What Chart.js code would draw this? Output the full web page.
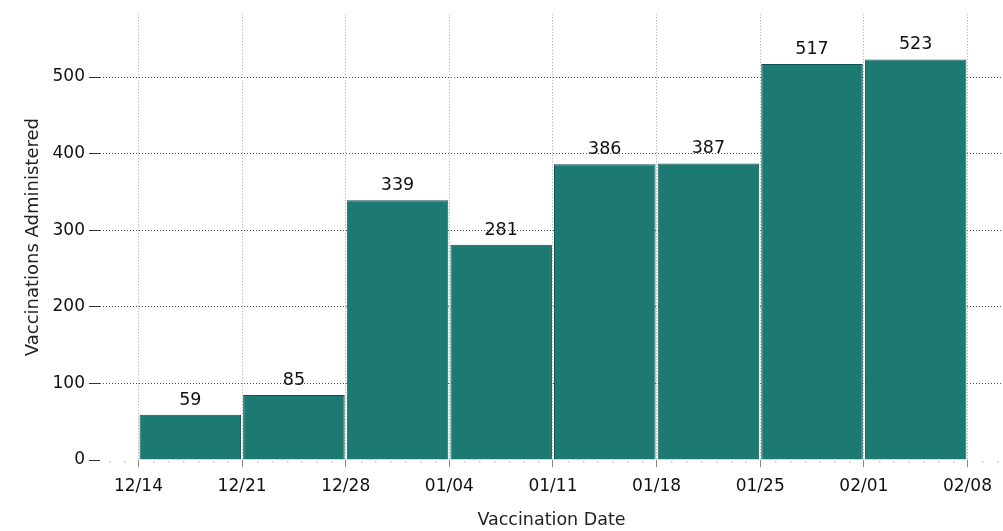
<!DOCTYPE html>
<html>
<head>
<meta charset="utf-8">
<script src="https://cdn.jsdelivr.net/npm/chart.js@4/dist/chart.umd.min.js"></script>
<style>
    html, body { margin: 0; padding: 0; background: #fff; }
    #wrap { width: 1003px; height: 531px; }
</style>
</head>
<body>
<div id="wrap"><canvas id="vaxChart"></canvas></div>
<script>
// days since 12/14 for each week boundary, and their labels
const weekDays = [0, 7, 14, 21, 28, 35, 42, 49, 56];
const tickLabels = ['12/14', '12/21', '12/28', '01/04', '01/11', '01/18', '01/25', '02/01', '02/08'];
// vaccinations administered per week
const weeklyCounts = [59, 85, 339, 281, 386, 387, 517, 523];
const yTicks = [0, 100, 200, 300, 400, 500];

const FONT = 'DejaVu Sans';

function buildBarData() {
    let points = [];
    weeklyCounts.forEach(function(count, i) {
        points.push({x: (weekDays[i] + weekDays[i + 1]) / 2, y: count});
    });
    return points;
}

// value labels above each bar
const barLabels = {
    id: 'barLabels',
    afterDatasetsDraw(chart) {
        const ctx = chart.ctx;
        const meta = chart.getDatasetMeta(0);
        ctx.save();
        ctx.font = '17.5px "' + FONT + '"';
        ctx.fillStyle = '#111';
        ctx.textAlign = 'center';
        ctx.textBaseline = 'bottom';
        meta.data.forEach(function(bar, i) {
            ctx.fillText(String(weeklyCounts[i]), bar.x, bar.y - 6);
        });
        ctx.restore();
    }
};

// little daily marks along the x axis
const dayMarks = {
    id: 'dayMarks',
    afterDraw(chart) {
        const ctx = chart.ctx;
        const x = chart.scales.x;
        const bottom = chart.chartArea.bottom;
        ctx.save();
        ctx.fillStyle = '#c8c8c8';
        for (let d = Math.ceil(x.min); d <= Math.floor(x.max); d++) {
            if (weekDays.indexOf(d) !== -1) continue;
            ctx.fillRect(Math.round(x.getPixelForValue(d)), bottom + 1, 1.5, 1.5);
        }
        ctx.restore();
    }
};

document.addEventListener('DOMContentLoaded', function() {
    const config = {
        type: 'bar',
        data: {
            datasets: [{
                data: buildBarData(),
                backgroundColor: '#1d7a72',
                borderColor: '#0e544e',
                borderWidth: 1,
                barPercentage: 0.98,
                categoryPercentage: 1.0
            }]
        },
        options: {
            responsive: true,
            maintainAspectRatio: false,
            animation: false,
            layout: {padding: {top: 12, left: 22, right: 0, bottom: 0}},
            plugins: {
                legend: {display: false},
                tooltip: {enabled: false}
            },
            scales: {
                x: {
                    type: 'linear',
                    offset: false,
                    min: -2.6,
                    max: 58.4,
                    afterBuildTicks: (scale) => {
                        scale.ticks = weekDays.map(v => ({value: v}));
                    },
                    afterFit: (scale) => { scale.height = 71; },
                    ticks: {
                        autoSkip: false,
                        maxRotation: 0,
                        padding: 9,
                        color: '#111',
                        font: {family: FONT, size: 17},
                        callback: (value) => tickLabels[weekDays.indexOf(value)]
                    },
                    grid: {
                        offset: false,
                        color: '#a8a8a8',
                        lineWidth: 1,
                        tickLength: 7,
                        tickColor: '#888',
                        tickBorderDash: []
                    },
                    border: {display: false, dash: [1, 2]},
                    title: {
                        display: true,
                        text: 'Vaccination Date',
                        color: '#222',
                        font: {family: FONT, size: 17.5},
                        padding: {top: 0, bottom: 0}
                    }
                },
                y: {
                    min: 0,
                    max: 582,
                    afterBuildTicks: (scale) => {
                        scale.ticks = yTicks.map(v => ({value: v}));
                    },
                    afterFit: (scale) => { scale.width = 78; },
                    ticks: {
                        padding: 4,
                        color: '#111',
                        font: {family: FONT, size: 17}
                    },
                    grid: {
                        color: (c) => c.tick && c.tick.value === 0 ? 'rgba(0,0,0,0)' : '#555',
                        lineWidth: 1,
                        tickLength: 11,
                        tickColor: '#333',
                        tickBorderDash: []
                    },
                    border: {display: false, dash: [1, 2]},
                    title: {
                        display: true,
                        text: 'Vaccinations Administered',
                        color: '#222',
                        font: {family: FONT, size: 18},
                        padding: {top: 1, bottom: 0}
                    }
                }
            }
        },
        plugins: [barLabels, dayMarks]
    };
    new Chart(document.getElementById('vaxChart'), config);
});
</script>
</body>
</html>
